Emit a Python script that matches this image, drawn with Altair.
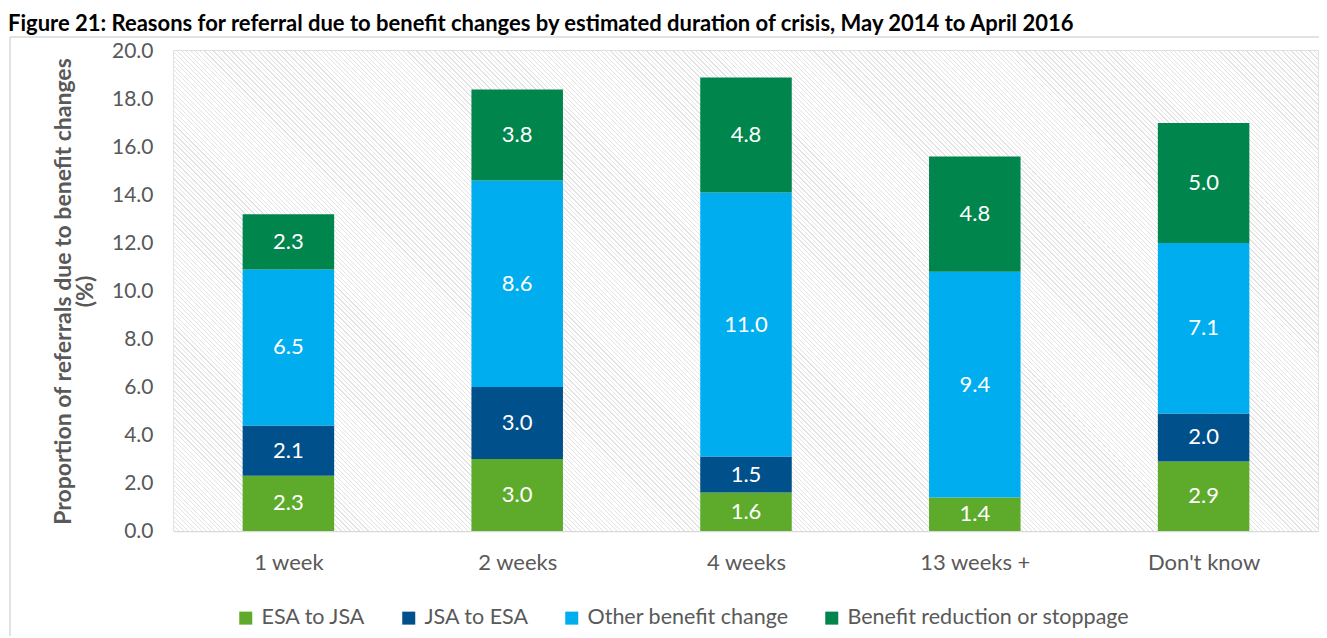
import altair as alt
import pandas as pd

categories = ["1 week", "2 weeks", "4 weeks", "13 weeks +", "Don't know"]
series = ["ESA to JSA", "JSA to ESA", "Other benefit change", "Benefit reduction or stoppage"]
esa_to_jsa = [2.3, 3.0, 1.6, 1.4, 2.9]
jsa_to_esa = [2.1, 3.0, 1.5, 0.0, 2.0]
other_change = [6.5, 8.6, 11.0, 9.4, 7.1]
reduction = [2.3, 3.8, 4.8, 4.8, 5.0]
colors = ["#5EAB2B", "#00508B", "#00AEEF", "#00854D"]
y_ticks = [0, 2, 4, 6, 8, 10, 12, 14, 16, 18, 20]
title_text = ("Figure 21: Reasons for referral due to benefit changes by estimated "
              "duration of crisis, May 2014 to April 2016")

rows = []
for s_i, (name, vals) in enumerate(zip(series, [esa_to_jsa, jsa_to_esa, other_change, reduction])):
    for c, v in zip(categories, vals):
        rows.append({"cat": c, "series": name, "value": v, "order": s_i})
df = pd.DataFrame(rows)

W, H = 1144, 480
TOP = 43

# hatched plot background as a striped linear gradient (45 degree, "\\" direction)
r = H / W
g2 = (1 + r) / (1 + r * r)
N = 360
f = 0.28
line_c = "#e3e3e3"
stops = []
for i in range(N):
    a = i / N
    b = (i + f) / N
    c = (i + 1) / N
    stops += [(a, line_c), (b, line_c), (b, "#ffffff"), (c, "#ffffff")]
hatch = alt.LinearGradient(gradient="linear", x1=0, y1=1, x2=g2, y2=1 - g2 * r,
                           stops=[alt.GradientStop(offset=o, color=col) for o, col in stops])

frame_df = pd.DataFrame({"k": [0]})
background = alt.Chart(frame_df).mark_rect(fill=hatch, strokeWidth=0).encode(
    x=alt.value(0), x2=alt.value(W), y=alt.value(0), y2=alt.value(H)
)

base = alt.Chart(df).transform_stack(
    stack="value", as_=["y0", "y1"], groupby=["cat"], sort=[alt.SortField("order", order="ascending")]
).transform_calculate(mid="(datum.y0 + datum.y1) / 2")

x_enc = alt.X(
    "cat:N", sort=categories, title=None,
    scale=alt.Scale(paddingInner=0.6, paddingOuter=0.3),
    axis=alt.Axis(grid=True, tickBand="extent", gridColor="#d9d9d9", gridWidth=1.5,
                  ticks=False, domain=False, labelAngle=0, labelFontSize=22,
                  labelColor="#595959", labelPadding=21),
)
y_scale = alt.Scale(domain=[0, 20], nice=False)

bars = base.mark_bar().encode(
    x=x_enc,
    y=alt.Y("y0:Q", scale=y_scale,
            title=["Proportion of referrals due to benefit changes", "(%)"],
            axis=alt.Axis(values=y_ticks, format=".1f", grid=True, gridColor="#d9d9d9",
                          gridWidth=1.5, ticks=False, domain=False, labelFontSize=21,
                          labelColor="#595959", labelPadding=21, titleFontSize=23,
                          titleFontWeight="bold", titleColor="#595959", titlePadding=14,
                          titleLineHeight=22)),
    y2="y1:Q",
    color=alt.Color("series:N", sort=series,
                    scale=alt.Scale(domain=series, range=colors),
                    legend=alt.Legend(title=None, orient="none", legendX=61, legendY=556,
                                      direction="horizontal", columns=4, symbolType="square",
                                      symbolSize=169, symbolStrokeWidth=0, labelFontSize=21.5,
                                      labelColor="#595959", labelOffset=5, columnPadding=32,
                                      labelLimit=500)),
    order=alt.Order("order:Q"),
)

labels = base.transform_filter("datum.value > 0").mark_text(
    color="white", fontSize=22
).encode(
    x=alt.X("cat:N", sort=categories),
    y=alt.Y("mid:Q", scale=y_scale),
    text=alt.Text("value:Q", format=".1f"),
)

title_df = pd.DataFrame({"t": [title_text]})
title_mark = alt.Chart(title_df).mark_text(
    align="left", baseline="alphabetic", fontSize=22, fontWeight="bold", color="#000000"
).encode(text="t:N", x=alt.value(-166), y=alt.value(-20))

left_border = alt.Chart(frame_df).mark_rule(color="#d9d9d9", strokeWidth=1.5).encode(
    x=alt.value(-164), y=alt.value(-14), y2=alt.value(585)
)
top_border = alt.Chart(frame_df).mark_rule(color="#d9d9d9", strokeWidth=1.5).encode(
    x=alt.value(-164), x2=alt.value(1145), y=alt.value(-14)
)

chart = alt.layer(background, bars, labels, left_border, top_border, title_mark).properties(
    width=W, height=H,
    padding={"left": 166, "top": TOP, "right": 1, "bottom": 105},
    autosize=alt.AutoSizeParams(type="none"),
).configure(font="Lato").configure_view(
    stroke="#d9d9d9", strokeWidth=1.5
)

chart.save("out.html", embed_options={"renderer": "svg", "actions": False})
